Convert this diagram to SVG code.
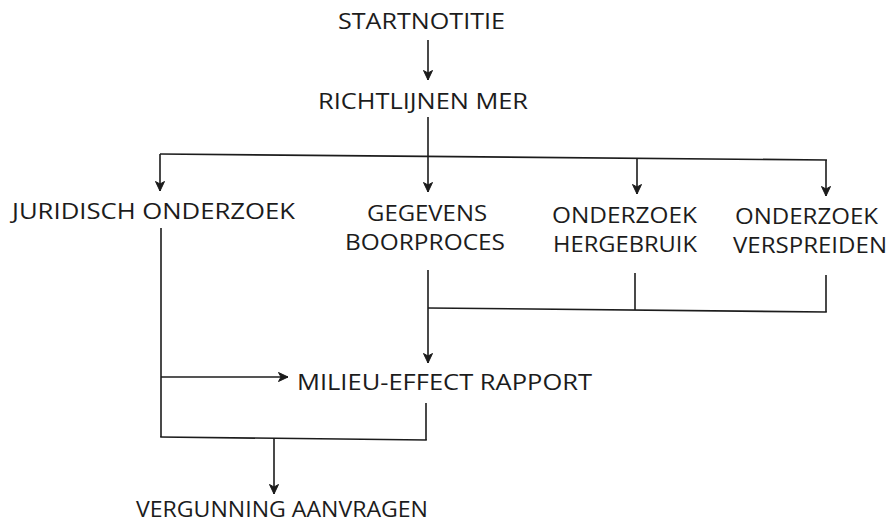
<svg xmlns="http://www.w3.org/2000/svg" width="892" height="525" viewBox="0 0 892 525">
<style>
  text { font-family: "Open Sans", "Noto Sans", "DejaVu Sans", sans-serif; font-size: 21px; fill: #1c1c1c; lengthAdjust: spacingAndGlyphs; }
  .c line, .c polyline { stroke: #1c1c1c; stroke-width: 1.6; fill: none; }
  .a { marker-end: url(#arr); }
</style>
<defs>
  <marker id="arr" markerUnits="userSpaceOnUse" markerWidth="11" markerHeight="11" refX="10" refY="5.5" orient="auto">
    <path d="M0.5,1 L10,5.5 L0.5,10 L3,5.5 Z" fill="#1c1c1c" stroke="#1c1c1c" stroke-width="1" stroke-linejoin="round"/>
  </marker>
</defs>
<rect width="892" height="525" fill="#ffffff"/>
<g class="c" id="connectors">
  <line class="a" x1="428" y1="40" x2="428" y2="80"/>
  <line x1="428" y1="117" x2="428" y2="156"/>
  <line x1="160" y1="154" x2="827" y2="160"/>
  <line class="a" x1="160" y1="154" x2="160" y2="191"/>
  <line class="a" x1="428" y1="156" x2="428" y2="192"/>
  <line class="a" x1="637" y1="158" x2="637" y2="194"/>
  <line class="a" x1="826" y1="160" x2="826" y2="196"/>
  <line x1="428" y1="270" x2="428" y2="308"/>
  <line x1="635" y1="273" x2="635" y2="310"/>
  <line x1="826" y1="275" x2="826" y2="312"/>
  <line x1="428" y1="308" x2="826.8" y2="312"/>
  <line class="a" x1="428" y1="308" x2="428" y2="363"/>
  <line x1="161" y1="228" x2="161" y2="437"/>
  <line class="a" x1="161" y1="377" x2="288" y2="377"/>
  <line x1="426" y1="403" x2="426" y2="440"/>
  <line x1="160.2" y1="437" x2="426.8" y2="440"/>
  <line class="a" x1="274" y1="438.5" x2="274" y2="494"/>
</g>
<g id="startnotitie"><text x="338" y="29" textLength="167" lengthAdjust="spacingAndGlyphs">STARTNOTITIE</text></g>
<g id="richtlijnen"><text x="318" y="109" textLength="210" lengthAdjust="spacingAndGlyphs">RICHTLIJNEN MER</text></g>
<g id="juridisch"><text x="12" y="219" textLength="283" lengthAdjust="spacingAndGlyphs">JURIDISCH ONDERZOEK</text></g>
<g id="gegevens">
  <text x="367" y="221" textLength="120" lengthAdjust="spacingAndGlyphs">GEGEVENS</text>
  <text x="345" y="250" textLength="160" lengthAdjust="spacingAndGlyphs">BOORPROCES</text>
</g>
<g id="hergebruik">
  <text x="552" y="223" textLength="145" lengthAdjust="spacingAndGlyphs">ONDERZOEK</text>
  <text x="553" y="252" textLength="144" lengthAdjust="spacingAndGlyphs">HERGEBRUIK</text>
</g>
<g id="verspreiden">
  <text x="735" y="224" textLength="143" lengthAdjust="spacingAndGlyphs">ONDERZOEK</text>
  <text x="733" y="253" textLength="154" lengthAdjust="spacingAndGlyphs">VERSPREIDEN</text>
</g>
<g id="milieu"><text x="297" y="390" textLength="295" lengthAdjust="spacingAndGlyphs">MILIEU-EFFECT RAPPORT</text></g>
<g id="vergunning"><text x="136" y="517" textLength="292" lengthAdjust="spacingAndGlyphs">VERGUNNING AANVRAGEN</text></g>
</svg>
